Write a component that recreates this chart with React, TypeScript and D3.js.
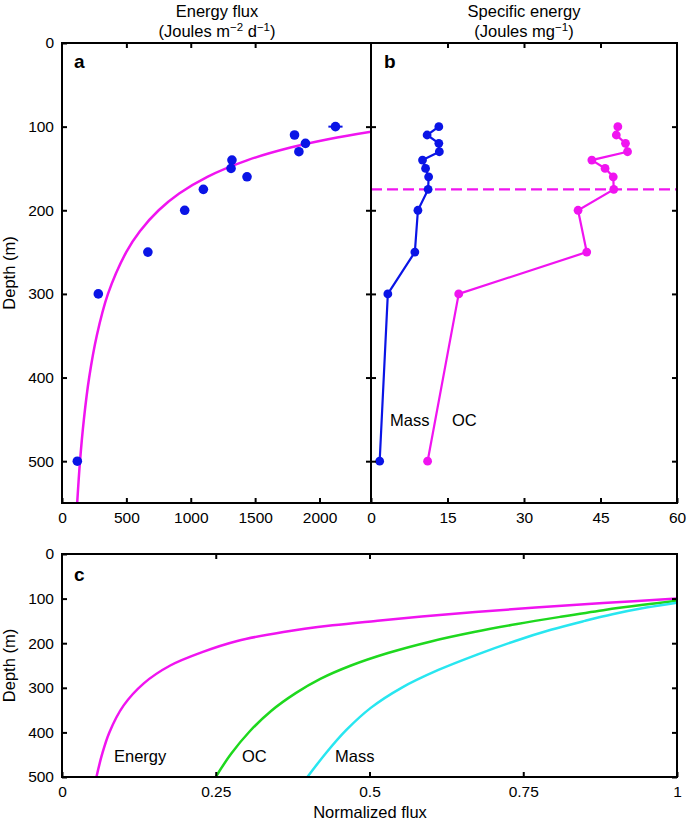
import { useEffect, useRef } from 'react'
import * as d3 from 'd3'

// panel a: energy flux measurements (Joules m-2 d-1) vs depth
const fluxDepth = [100, 110, 120, 130, 140, 150, 160, 175, 200, 250, 300, 500]
const fluxValue = [2124, 1806, 1891, 1840, 1320, 1313, 1437, 1098, 953, 667, 282, 119]
const fluxErr = [55, 0, 0, 30, 0, 0, 0, 0, 0, 0, 0, 0]

// panel a: fitted flux curve
const fitDepth = [100, 106, 115, 125, 140, 160, 180, 200, 225, 250, 300, 350, 400, 450, 500, 550]
const fitFlux = [2669, 2400, 2067, 1775, 1442, 1129, 910, 751, 605, 499, 357, 270, 211, 170, 140, 118]

// panel b: specific energy (Joules mg-1)
const specDepth = [100, 110, 120, 130, 140, 150, 160, 175, 200, 250, 300, 500]
const massSpec = [13.3, 11.0, 13.3, 13.4, 10.1, 10.7, 11.3, 11.2, 9.2, 8.6, 3.3, 1.7]
const ocSpec = [48.4, 48.1, 49.9, 50.3, 43.3, 45.9, 47.5, 47.6, 40.6, 42.3, 17.2, 11.1]
const refDepth = 175

// panel c: normalized flux curves
const energyDepth = [100, 110, 120, 130, 140, 150, 160, 175, 195, 220, 250, 290, 340, 400, 450, 500]
const energyNorm = [1.0, 0.88, 0.77, 0.672, 0.585, 0.51, 0.44, 0.36, 0.285, 0.228, 0.176, 0.133, 0.1, 0.077, 0.065, 0.056]
const ocDepth = [105, 114, 126, 141, 157, 175, 196, 222, 250, 280, 312, 352, 398, 448, 500]
const ocNorm = [1.0, 0.945, 0.88, 0.81, 0.74, 0.67, 0.6, 0.53, 0.47, 0.42, 0.38, 0.34, 0.305, 0.275, 0.25]
const massDepth = [109, 120, 135, 150, 170, 195, 225, 260, 300, 345, 395, 445, 500]
const massNorm = [1.0, 0.95, 0.895, 0.85, 0.795, 0.737, 0.676, 0.612, 0.552, 0.502, 0.462, 0.43, 0.399]

const depthTicks = [0, 100, 200, 300, 400, 500]
const aTicks = [0, 500, 1000, 1500, 2000]
const bTicks = [0, 15, 30, 45, 60]
const cTicks = [0, 0.25, 0.5, 0.75, 1]
const cDepthTicks = [0, 100, 200, 300, 400, 500]

const MAG = '#f014f0', BLUE = '#0a14e6', GREEN = '#1ed81e', CYAN = '#28e6f0'
const FONT = '"Liberation Sans", Arial, sans-serif'
const TICK_FS = 15.5, LAB_FS = 16.5

export default function App() {
  const ref = useRef<SVGSVGElement>(null)

  useEffect(() => {
    const svg = d3.select(ref.current!)
    svg.selectAll('*').remove()
    svg.attr('font-family', FONT)

    const aX = d3.scaleLinear().domain([0, 2400]).range([62, 371])
    const bX = d3.scaleLinear().domain([0, 60]).range([371, 677])
    const tY = d3.scaleLinear().domain([0, 550]).range([43, 503])
    const cX = d3.scaleLinear().domain([0, 1]).range([62, 677])
    const cY = d3.scaleLinear().domain([0, 500]).range([554, 777])

    function styleAxis(g: any) {
      g.select('.domain').remove()
      g.selectAll('line').attr('stroke', '#000').attr('stroke-width', 2)
      g.selectAll('text').attr('fill', '#000').attr('font-size', TICK_FS).attr('font-family', FONT)
    }
    function box(x: any, y: any, xt: number[], yt: number[], labY: boolean, fmt: (v: any) => string) {
      const [x0, x1] = x.range(), [y0, y1] = y.range()
      svg.append('g').attr('transform', `translate(0,${y1})`)
        .call(d3.axisBottom(x).tickValues(xt).tickSizeInner(-5).tickSizeOuter(0).tickPadding(9).tickFormat(fmt))
        .call(styleAxis)
      svg.append('g').attr('transform', `translate(0,${y0})`)
        .call(d3.axisTop(x).tickValues(xt.slice(1, -1)).tickSizeInner(-5).tickSizeOuter(0).tickFormat(() => ''))
        .call(styleAxis)
      svg.append('g').attr('transform', `translate(${x0},0)`)
        .call(d3.axisLeft(y).tickValues(labY ? yt : yt.slice(1)).tickSizeInner(-5).tickSizeOuter(0).tickPadding(8).tickFormat(labY ? (d: any) => String(d) : () => ''))
        .call(styleAxis)
      svg.append('g').attr('transform', `translate(${x1},0)`)
        .call(d3.axisRight(y).tickValues(yt.slice(1)).tickSizeInner(-5).tickSizeOuter(0).tickFormat(() => ''))
        .call(styleAxis)
      svg.append('rect').attr('x', x0).attr('y', y0).attr('width', x1 - x0).attr('height', y1 - y0)
        .attr('fill', 'none').attr('stroke', '#000').attr('stroke-width', 2)
    }

    // clip paths
    const defs = svg.append('defs')
    defs.append('clipPath').attr('id', 'clipA').append('rect').attr('x', 62).attr('y', 43).attr('width', 309).attr('height', 460)
    defs.append('clipPath').attr('id', 'clipC').append('rect').attr('x', 62).attr('y', 554).attr('width', 615).attr('height', 223)

    // ---- panel a
    const fitLine = d3.line<number>().x(i => aX(fitFlux[i])).y(i => tY(fitDepth[i])).curve(d3.curveCatmullRom)
    svg.append('path').attr('clip-path', 'url(#clipA)').attr('d', fitLine(d3.range(fitDepth.length)))
      .attr('fill', 'none').attr('stroke', MAG).attr('stroke-width', 2.5)
    fluxDepth.forEach((z, i) => {
      if (fluxErr[i] > 0) {
        svg.append('line').attr('x1', aX(fluxValue[i] - fluxErr[i])).attr('x2', aX(fluxValue[i] + fluxErr[i]))
          .attr('y1', tY(z)).attr('y2', tY(z)).attr('stroke', BLUE).attr('stroke-width', 2)
      }
      svg.append('circle').attr('cx', aX(fluxValue[i])).attr('cy', tY(z)).attr('r', 4.8).attr('fill', BLUE)
    })

    // ---- panel b
    svg.append('line').attr('x1', bX(0)).attr('x2', bX(60)).attr('y1', tY(refDepth)).attr('y2', tY(refDepth))
      .attr('stroke', MAG).attr('stroke-width', 2.2).attr('stroke-dasharray', '11,5')
    const specSeries: [number[], string][] = [[massSpec, BLUE], [ocSpec, MAG]]
    specSeries.forEach(([vals, col]) => {
      const ln = d3.line<number>().x(i => bX(vals[i])).y(i => tY(specDepth[i]))
      svg.append('path').attr('d', ln(d3.range(vals.length))).attr('fill', 'none').attr('stroke', col).attr('stroke-width', 2.2)
      vals.forEach((v, i) => svg.append('circle').attr('cx', bX(v)).attr('cy', tY(specDepth[i])).attr('r', 4.4).attr('fill', col))
    })
    svg.append('text').attr('x', 390).attr('y', 426).attr('font-size', LAB_FS).text('Mass')
    svg.append('text').attr('x', 452).attr('y', 426).attr('font-size', LAB_FS).text('OC')

    box(aX, tY, aTicks, depthTicks, true, (d: any) => String(d))
    box(bX, tY, bTicks, depthTicks, false, (d: any) => String(d))

    // ---- panel c
    const cSeries: [number[], number[], string][] = [[energyDepth, energyNorm, MAG], [ocDepth, ocNorm, GREEN], [massDepth, massNorm, CYAN]]
    cSeries.forEach(([dep, val, col]) => {
      const ln = d3.line<number>().x(i => cX(val[i])).y(i => cY(dep[i])).curve(d3.curveCatmullRom)
      svg.append('path').attr('clip-path', 'url(#clipC)').attr('d', ln(d3.range(dep.length)))
        .attr('fill', 'none').attr('stroke', col).attr('stroke-width', 2.5)
    })
    svg.append('text').attr('x', 114).attr('y', 762).attr('font-size', LAB_FS).text('Energy')
    svg.append('text').attr('x', 242).attr('y', 762).attr('font-size', LAB_FS).text('OC')
    svg.append('text').attr('x', 335).attr('y', 762).attr('font-size', LAB_FS).text('Mass')

    box(cX, cY, cTicks, cDepthTicks, true, (d: any) => String(d))

    // panel letters
    const letters: [string, number, number][] = [['a', 74, 68], ['b', 384, 68], ['c', 74, 581]]
    letters.forEach(([t, x, y]) => svg.append('text').attr('x', x).attr('y', y).attr('font-size', 19).attr('font-weight', 'bold').text(t))

    // titles
    const t1 = svg.append('g').attr('text-anchor', 'middle').attr('font-size', LAB_FS)
    t1.append('text').attr('x', 217).attr('y', 17).text('Energy flux')
    const s1 = t1.append('text').attr('x', 217).attr('y', 37)
    s1.append('tspan').text('(Joules m')
    s1.append('tspan').attr('dy', -6.5).attr('font-size', 11.5).text('−2')
    s1.append('tspan').attr('dy', 6.5).text(' d')
    s1.append('tspan').attr('dy', -6.5).attr('font-size', 11.5).text('−1')
    s1.append('tspan').attr('dy', 6.5).text(')')
    t1.append('text').attr('x', 524).attr('y', 17).text('Specific energy')
    const s2 = t1.append('text').attr('x', 524).attr('y', 37)
    s2.append('tspan').text('(Joules mg')
    s2.append('tspan').attr('dy', -6.5).attr('font-size', 11.5).text('−1')
    s2.append('tspan').attr('dy', 6.5).text(')')

    // axis labels
    svg.append('text').attr('transform', `translate(15,${(43 + 503) / 2}) rotate(-90)`).attr('text-anchor', 'middle').attr('font-size', LAB_FS).text('Depth (m)')
    svg.append('text').attr('transform', `translate(15,${(554 + 777) / 2}) rotate(-90)`).attr('text-anchor', 'middle').attr('font-size', LAB_FS).text('Depth (m)')
    svg.append('text').attr('x', 370).attr('y', 818).attr('text-anchor', 'middle').attr('font-size', LAB_FS).text('Normalized flux')
  }, [])

  return <svg ref={ref} width={687} height={822} style={{ position: 'absolute', left: 0, top: 0, background: '#fff' }} />
}
